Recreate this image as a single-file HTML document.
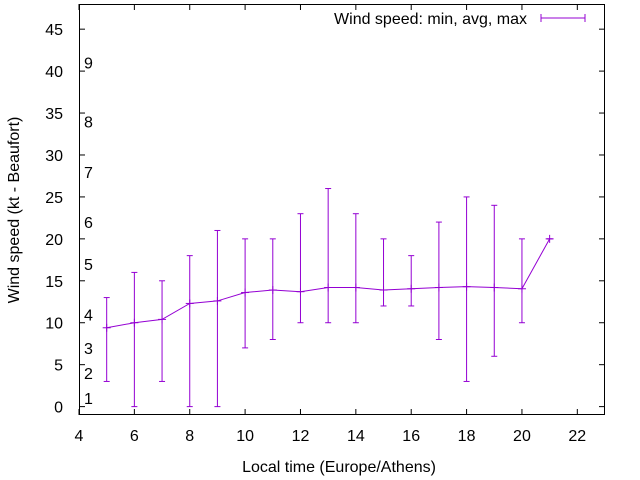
<!DOCTYPE html>
<html><head><meta charset="utf-8"><style>
html,body{margin:0;padding:0;background:#fff}
svg{display:block;font-family:"Liberation Sans",sans-serif}
</style></head><body>
<svg id="chart" width="640" height="480">
<rect x="0" y="0" width="640" height="480" fill="#fff"/>
<g id="axes"></g>
<g id="beaufort"></g>
<g id="series"></g>
<text x="19" y="210" transform="rotate(-90 19 210)" text-anchor="middle" font-size="16">Wind speed (kt - Beaufort)</text>
<text x="339" y="472" text-anchor="middle" font-size="16">Local time (Europe/Athens)</text>
<g>
<text x="527" y="24" text-anchor="end" font-size="16">Wind speed: min, avg, max</text>
<line x1="541" y1="18" x2="585" y2="18" stroke="#9400d3" stroke-width="1"/>
<line x1="541" y1="14" x2="541" y2="22" stroke="#9400d3"/>
<line x1="585" y1="14" x2="585" y2="22" stroke="#9400d3"/>
</g>
</svg>
<script>
const hours=[5,6,7,8,9,10,11,12,13,14,15,16,17,18,19,20,21];
const avgSpeed=[9.4,10.0,10.4,12.3,12.6,13.6,13.9,13.7,14.2,14.2,13.9,14.05,14.2,14.3,14.2,14.05,20];
const minSpeed=[3,0,3,0,0,7,8,10,10,10,12,12,8,3,6,10,20];
const maxSpeed=[13,16,15,18,21,20,20,23,26,23,20,18,22,25,24,20,20];
const xTicks=[4,6,8,10,12,14,16,18,20,22];
const yTicks=[0,5,10,15,20,25,30,35,40,45];
const beaufortLabels=["1","2","3","4","5","6","7","8","9"];
const beaufortKt=[1,4,7,11,17,22,28,34,41];

const L=79,R=605,T=4,B=415,X0=4,X1=23,Y0=-1,Y1=48;
const sx=v=>L+(v-X0)/(X1-X0)*(R-L);
const sy=v=>B-(v-Y0)/(Y1-Y0)*(B-T);
const NS="http://www.w3.org/2000/svg";
function mk(tag,attrs,parent){const e=document.createElementNS(NS,tag);for(const k in attrs)e.setAttribute(k,attrs[k]);parent.appendChild(e);return e;}
const ax=document.getElementById('axes');
const frame=mk('rect',{x:L+0.5,y:T+0.5,width:R-L-1,height:B-T-1,fill:'none',stroke:'#000'},ax);


xTicks.forEach(v=>{const x=sx(v);
mk('line',{x1:x,y1:B,x2:x,y2:B-6,stroke:'#000'},ax);
mk('line',{x1:x,y1:T,x2:x,y2:T+6,stroke:'#000'},ax);
const t=mk('text',{x:x,y:B+26,'text-anchor':'middle','font-size':16},ax);t.textContent=v;

});
yTicks.forEach(v=>{const y=sy(v);
mk('line',{x1:L,y1:y,x2:L+6,y2:y,stroke:'#000'},ax);
mk('line',{x1:R,y1:y,x2:R-6,y2:y,stroke:'#000'},ax);
const t=mk('text',{x:L-16,y:y+6,'text-anchor':'end','font-size':16},ax);t.textContent=v;

});
const bf=document.getElementById('beaufort');
beaufortLabels.forEach((s,i)=>{const t=mk('text',{x:84,y:sy(beaufortKt[i])+6,'font-size':16},bf);t.textContent=s;

});
const sg=document.getElementById('series');
const C='#9400d3';
const pl=mk('polyline',{points:hours.map((h,i)=>sx(h)+','+sy(avgSpeed[i])).join(' '),fill:'none',stroke:C},sg);


hours.forEach((h,i)=>{const x=sx(h);
const g=mk('g',{},sg);


mk('line',{x1:x,y1:sy(minSpeed[i]),x2:x,y2:sy(maxSpeed[i]),stroke:C},g);
mk('line',{x1:x-3,y1:sy(minSpeed[i]),x2:x+3,y2:sy(minSpeed[i]),stroke:C},g);
mk('line',{x1:x-3,y1:sy(maxSpeed[i]),x2:x+3,y2:sy(maxSpeed[i]),stroke:C},g);
mk('line',{x1:x-4,y1:sy(avgSpeed[i]),x2:x+4,y2:sy(avgSpeed[i]),stroke:C},g);
mk('line',{x1:x,y1:sy(avgSpeed[i])-4,x2:x,y2:sy(avgSpeed[i])+4,stroke:C},g);});
</script>
</body></html>
